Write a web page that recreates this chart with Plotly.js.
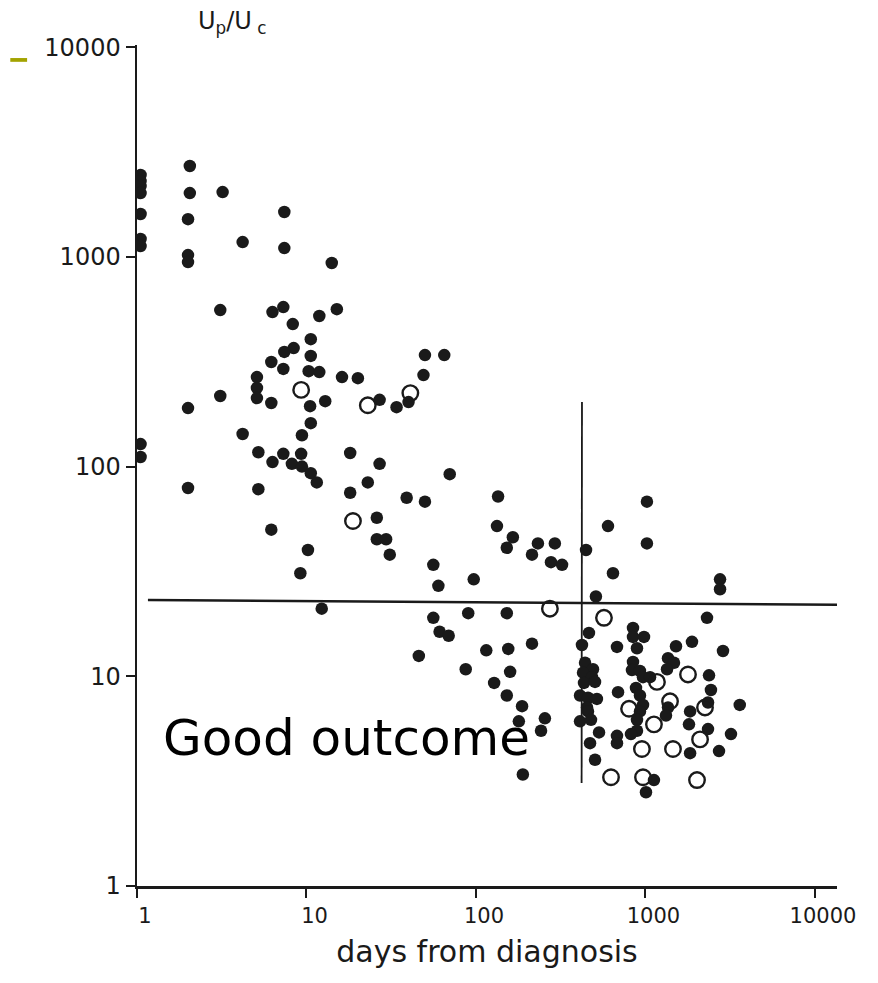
<!DOCTYPE html>
<html>
<head>
<meta charset="utf-8">
<script src="https://cdn.plot.ly/plotly-3.0.1.min.js"></script>
<style>html,body{margin:0;padding:0;background:#fff;}#chart{width:878px;height:983px;}</style>
</head>
<body>
<div id="chart"></div>
<script>
// filled dots: days from diagnosis / Up/Uc
const filledDays = [1.05,1.05,1.05,1.05,1.05,1.05,1.05,1.05,1.05,
  2.05,2.05,2.0,2.0,2.0,2.0,2.0,3.2,4.2,7.4,7.4,14.1,
  3.1,6.3,7.3,8.3,11.9,15.1,10.6,8.4,7.4,10.6,6.2,7.3,10.3,11.9,16.2,20.1,
  5.1,5.1,5.1,3.1,6.2,10.5,12.9,10.6,4.2,9.4,5.2,7.3,9.3,6.3,8.2,9.4,10.6,11.5,
  18.1,18.1,5.2,6.2,10.2,9.2,12.3,
  50,65,49,27,34,40,27,23,70,39,50,26,26,29.5,31,
  135,133,165,152,232,214,292,277,322,446,601,1020,1020,643,
  56,60,97,510,56,90,152,61,69,464,422,844,844,980,679,891,1514,1881,2866,2754,2754,2307,
  115,155,214,46,87,159,128,152,187,179,255,242,189,
  440,490,428,484,434,504,411,458,517,452,458,411,477,532,471,504,
  689,679,679,844,832,928,967,1064,1358,1473,1340,2371,2434,879,928,967,928,891,891,821,
  1358,1321,2339,3600,1833,1806,2339,3195,1833,2716,1122,1007];
const filledRatio = [2455,2297,2174,2014,1600,1216,1125,128,111,
  2710,2014,1512,1019,944,190,79,2036,1176,1635,1101,934,
  557,545,576,478,522,563,405,367,352,337,315,292,285,282,267,264,
  267,237,212,217,201,194,205,161,143,141,117,115,115,105,103,100,93,84,
  116,75,78,50,40,31,21,
  340,340,273,208,192,203,103,84,92,71,68,57,45,45,38,
  72,52,46,41,43,38,43,35,34,40,52,68,43,31,
  34,27,29,24,19,20,20,16.3,15.6,16.1,14.1,17.0,15.4,15.4,13.8,13.6,13.9,14.6,13.2,29,26,19,
  13.3,13.5,14.3,12.5,10.8,10.5,9.3,8.1,7.2,6.1,6.3,5.5,3.4,
  11.6,10.8,10.4,9.9,9.3,9.4,8.1,7.9,7.8,7.1,6.8,6.1,6.2,5.4,4.8,4.0,
  8.4,5.2,4.8,11.7,10.7,10.6,9.9,9.9,12.2,11.6,10.8,10.1,8.6,8.8,8.1,7.3,6.8,6.2,5.5,5.3,
  7.1,6.5,7.5,7.3,6.8,5.9,5.6,5.3,4.3,4.4,3.2,2.8];
// open circles
const openDays  = [9.3,23,41,18.8,273,569,1169,1782,800,1396,2245,1122,2099,953,1453,626,967,2014];
const openRatio = [232,196,224,55,21,19,9.4,10.2,7.0,7.6,7.1,5.9,5.0,4.5,4.5,3.3,3.3,3.2];
// reference lines
const hLineDays  = [1.16, 13700];
const hLineRatio = [23.1, 21.9];
const vLineDays  = [422, 420];
const vLineRatio = [203, 3.1];
// ticks
const tickVals = [1, 10, 100, 1000, 10000];
const tickText = ['1', '10', '100', '1000', '10000'];

const ink = '#1a1a1a';
const traces = [
  {x: hLineDays, y: hLineRatio, mode: 'lines', line: {color: ink, width: 2.5}, hoverinfo: 'skip', showlegend: false},
  {x: vLineDays, y: vLineRatio, mode: 'lines', line: {color: ink, width: 1.8}, hoverinfo: 'skip', showlegend: false},
  {x: filledDays, y: filledRatio, mode: 'markers', type: 'scatter',
   marker: {color: ink, size: 12.5, line: {width: 0}}, showlegend: false},
  {x: openDays, y: openRatio, mode: 'markers', type: 'scatter',
   marker: {symbol: 'circle-open', color: ink, size: 15.5, line: {width: 2.4, color: ink}}, showlegend: false}
];

const font = 'DejaVu Sans, Arial, sans-serif';
const layout = {
  width: 878, height: 983,
  margin: {l: 137, r: 41, t: 45, b: 97},
  paper_bgcolor: '#fff', plot_bgcolor: '#fff',
  showlegend: false,
  xaxis: {
    type: 'log', range: [0, 4.13], tickvals: tickVals, ticktext: tickText,
    showgrid: false, zeroline: false, showline: true, linecolor: ink, linewidth: 3,
    ticks: 'outside', ticklen: 9, tickwidth: 2, tickcolor: ink, ticklabelshift: 8,
    tickfont: {family: font, size: 21, color: ink},
    title: {text: 'days from diagnosis', font: {family: font, size: 30, color: ink}, standoff: 14}
  },
  yaxis: {
    type: 'log', range: [0, 4.01], tickvals: tickVals, ticktext: tickText,
    showgrid: false, zeroline: false, showline: true, linecolor: ink, linewidth: 2.5,
    ticks: 'outside', ticklen: 9, tickwidth: 2, tickcolor: ink,
    tickfont: {family: font, size: 24, color: ink}
  },
  annotations: [
    {xref: 'paper', yref: 'paper', x: 0.136, y: 1.027, xanchor: 'center', yanchor: 'middle',
     text: 'U<sub>p</sub>/U<sub> c</sub>', showarrow: false, font: {family: font, size: 24, color: ink}},
    {xref: 'paper', yref: 'paper', x: 0.034, y: 0.176, xanchor: 'left', yanchor: 'middle',
     text: 'Good outcome', showarrow: false, font: {family: font, size: 50, color: '#000'}}
  ],
  shapes: [
    {type: 'rect', xref: 'paper', yref: 'paper', x0: -0.181, x1: -0.157, y0: 0.980, y1: 0.9845,
     fillcolor: '#a3a300', line: {width: 0}}
  ]
};
Plotly.newPlot('chart', traces, layout, {displayModeBar: false, staticPlot: true});
</script>
</body>
</html>
